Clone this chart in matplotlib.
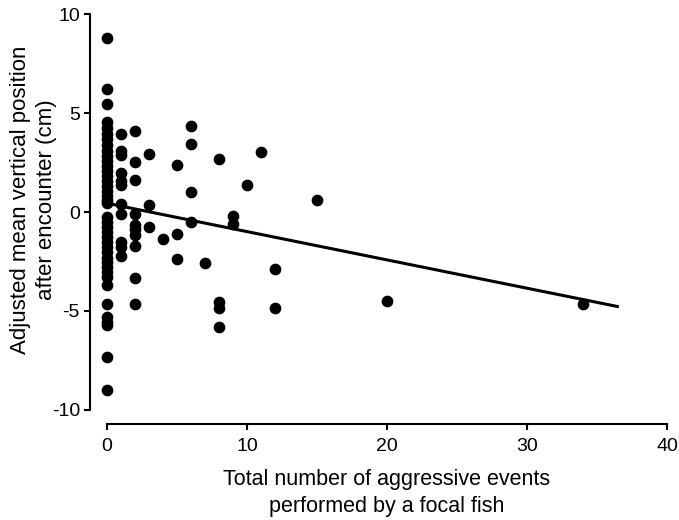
import numpy as np
import matplotlib.pyplot as plt

plt.rcParams.update({
    "font.family": ["Liberation Sans", "DejaVu Sans"],
    "font.size": 14,
    "axes.unicode_minus": False,
})

# aggressive events (x) and adjusted vertical position (y)
x0_vals = [8.8, 6.2, 5.45, 4.55, 4.25, 3.95, 3.7, 3.4, 3.1, 2.85, 2.6, 2.3,
           2.05, 1.8, 1.55, 1.3, 1.05, 0.8, 0.6, 0.45,
           -0.25, -0.5, -0.75, -1.0, -1.25, -1.5, -1.75, -2.0, -2.3, -2.55,
           -2.8, -3.05, -3.3, -3.7, -4.65, -5.3, -5.55, -5.7, -7.3, -9.0]
x1_vals = [3.95, 3.08, 2.88, 1.96, 1.57, 1.38, 0.4, -0.1, -1.5, -1.75, -2.2]
x2_vals = [4.1, 2.54, 1.61, -0.1, -0.65, -0.86, -1.16, -1.7, -3.35, -4.65]
other_x = [3, 3, 3, 4, 5, 5, 5, 6, 6, 6, 6, 7, 8, 8, 8, 8,
           9, 9, 10, 11, 12, 12, 15, 20, 34]
other_y = [2.93, 0.35, -0.75, -1.36, 2.37, -1.1, -2.37, 4.36, 3.43, 1.01, -0.5,
           -2.6, 2.69, -4.55, -4.85, -5.8, -0.2, -0.6, 1.38, 3.03, -2.9, -4.85,
           0.6, -4.5, -4.65]

events = [0] * len(x0_vals) + [1] * len(x1_vals) + [2] * len(x2_vals) + other_x
position = x0_vals + x1_vals + x2_vals + other_y

# regression line
line_x = [0, 36.45]
intercept, slope = 0.44, -0.143

fig = plt.figure(figsize=(6.79, 5.2), dpi=100)
ax = fig.add_axes([0.1514, 0.2002, 0.8351, 0.7842])

ax.scatter(events, position, s=55, color="black", zorder=3, clip_on=False)
ax.plot(line_x, [intercept + slope * v for v in line_x], color="black", lw=2.2)

ax.set_xlim(-0.3, 40.2)
ax.set_ylim(-10.3, 10.3)
ax.set_xticks([0, 10, 20, 30, 40])
ax.set_yticks([-10, -5, 0, 5, 10])

for side in ["top", "right"]:
    ax.spines[side].set_visible(False)
ax.spines["left"].set_position(("outward", 9))
ax.spines["bottom"].set_position(("outward", 6))
ax.spines["left"].set_bounds(-10, 10)
ax.spines["bottom"].set_bounds(0, 40)
for side in ["left", "bottom"]:
    ax.spines[side].set_linewidth(1.5)
ax.tick_params(width=1.5, length=4, labelsize=14)
ax.tick_params(axis="x", pad=6)

ax.set_xlabel("Total number of aggressive events\nperformed by a focal fish",
              fontsize=15.5, linespacing=1.35, labelpad=10)
ax.set_ylabel("Adjusted mean vertical position\nafter encounter (cm)",
              fontsize=16, linespacing=1.35)
ax.yaxis.set_label_coords(-0.08, 0.53)

plt.savefig("out.png")
